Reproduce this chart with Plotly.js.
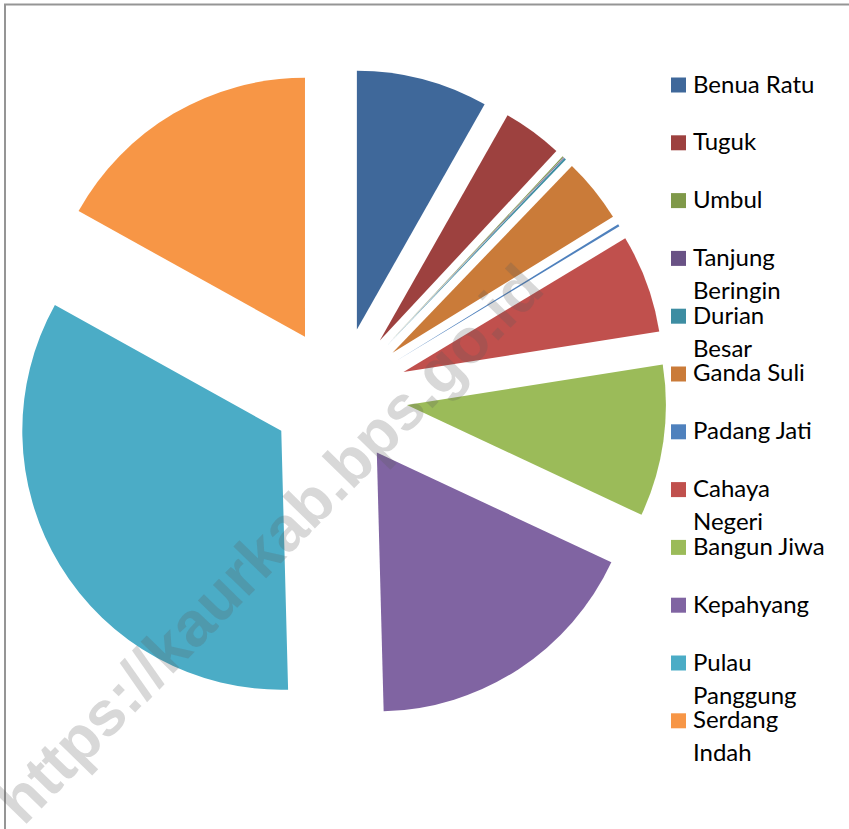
<!DOCTYPE html>
<html>
<head>
<meta charset="utf-8">
<script src="https://cdn.plot.ly/plotly-3.0.1.min.js"></script>
<style>html, body { margin: 0; padding: 0; background: #fff; }</style>
</head>
<body>
<div id="plot" style="width:849px;height:829px"></div>
<script>
// Desa, clockwise from 12 o'clock
let labels = ['Benua Ratu', 'Tuguk', 'Umbul', 'Tanjung Beringin', 'Durian Besar', 'Ganda Suli',
    'Padang Jati', 'Cahaya Negeri', 'Bangun Jiwa', 'Kepahyang', 'Pulau Panggung', 'Serdang Indah']
// share of total (%)
let values = [8.21, 3.73, 0.07, 0.05, 0.12, 4.03, 0.15, 6.14, 9.47, 17.61, 33.49, 16.93]
let colors = ['#3F689A', '#9D413F', '#7F9949', '#695285', '#3D8DA2', '#CA7B39',
    '#4F81BD', '#C0504D', '#9BBB59', '#8064A2', '#4BACC6', '#F79646']

const W = 849, H = 829
const px = x => x / W
const py = y => 1 - y / H

// long names wrap onto two lines, like the Excel legend
function wrapName(name) {
    if (name.length <= 11) return [name]
    let k = name.indexOf(' ')
    return [name.slice(0, k), name.slice(k + 1)]
}

let trace1 = {
    type: 'pie',
    labels: labels,
    values: values,
    sort: false,
    direction: 'clockwise',
    rotation: 0,
    pull: 0.263,
    marker: {colors: colors, line: {width: 0}},
    textinfo: 'none',
    hoverinfo: 'label+percent',
    showlegend: false,
    domain: {x: [0.0146, 0.7852], y: [0.1284, 0.9175]}
}

// hand-made legend: square + text, 57.8px apart
let shapes = []
let annotations = []
let legFont = {family: 'Lato, sans-serif', size: 24, color: '#000'}
for (let i = 0; i < labels.length; i++) {
    let yc = 85 + 57.8 * i
    shapes.push({
        type: 'rect', xref: 'paper', yref: 'paper',
        x0: px(671), x1: px(686), y0: py(yc + 7.5), y1: py(yc - 7.5),
        fillcolor: colors[i], line: {width: 0}
    })
    let lines = wrapName(labels[i])
    for (let j = 0; j < lines.length; j++) {
        annotations.push({
            xref: 'paper', yref: 'paper', x: px(691), y: py(yc - 2 + 33 * j),
            xanchor: 'left', yanchor: 'middle', showarrow: false,
            text: lines[j], font: legFont
        })
    }
}

// outer frame (right and bottom edges fall outside the picture)
shapes.push({
    type: 'rect', xref: 'paper', yref: 'paper',
    x0: px(5), x1: 1.1, y0: -0.1, y1: py(4.5),
    line: {color: '#959595', width: 2}, fillcolor: 'rgba(0,0,0,0)'
})

// watermark
annotations.push({
    xref: 'paper', yref: 'paper', x: px(269), y: py(544),
    xanchor: 'center', yanchor: 'middle', showarrow: false, textangle: -45.7,
    text: 'https://kaurkab.bps.go.id',
    font: {family: 'Liberation Sans, Arial, sans-serif', size: 63, weight: 'bold', color: 'rgba(90,90,90,0.24)'}
})

let layout = {
    width: W,
    height: H,
    margin: {l: 0, r: 0, t: 0, b: 0},
    paper_bgcolor: '#fff',
    showlegend: false,
    shapes: shapes,
    annotations: annotations
}

Plotly.newPlot('plot', [trace1], layout, {displayModeBar: false})
</script>
</body>
</html>
